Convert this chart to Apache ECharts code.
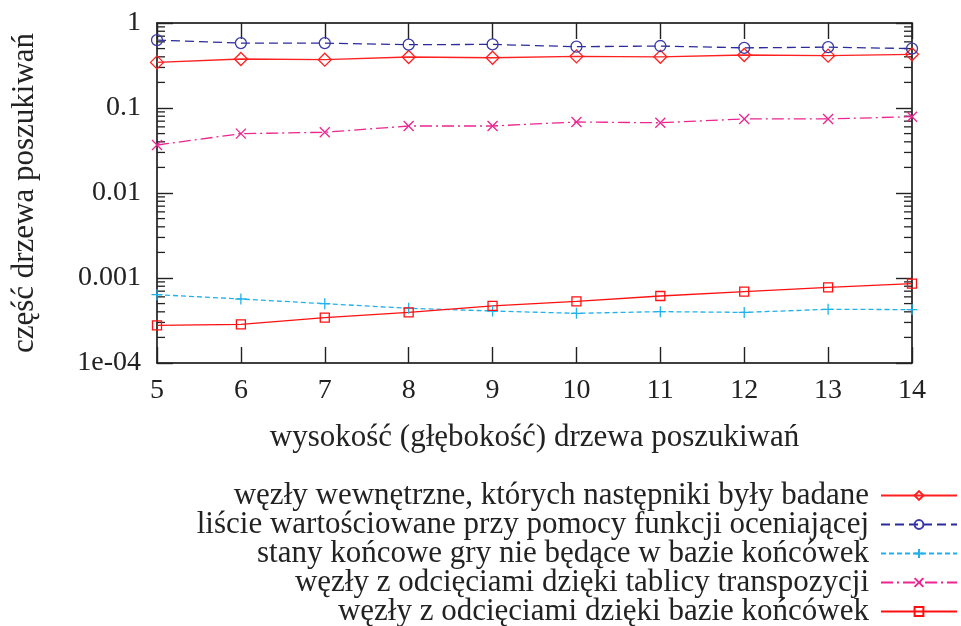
<!DOCTYPE html>
<html>
<head>
<meta charset="utf-8">
<title>część drzewa poszukiwań</title>
<script src="https://cdn.jsdelivr.net/npm/echarts@6/dist/echarts.min.js"></script>
<style>
  html, body { margin: 0; padding: 0; background: #fff; }
  #chart { width: 961px; height: 626px; }
</style>
</head>
<body>
<div id="chart"></div>
<script>
// Tree height on the x axis
const heights = [5, 6, 7, 8, 9, 10, 11, 12, 13, 14];

// Fraction of the search tree for each node category
const expandedNodes  = [0.344, 0.377, 0.370, 0.398, 0.390, 0.405, 0.400, 0.420, 0.413, 0.428];
const evaluatedLeaves = [0.630, 0.580, 0.580, 0.556, 0.560, 0.526, 0.536, 0.510, 0.520, 0.500];
const terminalStates = [6.37e-4, 5.66e-4, 4.99e-4, 4.40e-4, 4.09e-4, 3.84e-4, 4.02e-4, 3.94e-4, 4.28e-4, 4.25e-4];
const ttCutoffs      = [0.0367, 0.0499, 0.0518, 0.0614, 0.0614, 0.0685, 0.0670, 0.0743, 0.0743, 0.0790];
const egtbCutoffs    = [2.77e-4, 2.85e-4, 3.41e-4, 3.94e-4, 4.69e-4, 5.32e-4, 6.14e-4, 6.90e-4, 7.76e-4, 8.57e-4];

const seriesNames = [
  'węzły wewnętrzne, których następniki były badane',
  'liście wartościowane przy pomocy funkcji oceniającej',
  'stany końcowe gry nie będące w bazie końcówek',
  'węzły z odcięciami dzięki tablicy transpozycji',
  'węzły z odcięciami dzięki bazie końcówek'
];

// Decade labels, keyed by exponent
const yTickLabels = { '-4': '1e-04', '-3': '0.001', '-2': '0.01', '-1': '0.1', '0': '1' };

const xTitle = 'wysokość (głębokość) drzewa poszukiwań';
const yTitle = 'część drzewa poszukiwań';

const FONT = 'Liberation Serif';
const FS_TICK = 28;
const FS_TEXT = 31;

// minor log ticks 2..9 within each decade
const minorTickValues = [];
for (let e = -4; e < 0; e++) {
  for (let m = 2; m <= 9; m++) minorTickValues.push(m * Math.pow(10, e));
}

const pair = arr => arr.map((v, i) => [heights[i], v]);

const chart = echarts.init(document.getElementById('chart'), null, { renderer: 'canvas' });

const axisLineStyle = { color: '#000', width: 1.5 };
const tickStyle = { color: '#222', width: 1.4 };

function lineSeries(name, data, color, symbol, size, lineType, markerColor) {
  return {
    name: name,
    type: 'line',
    data: pair(data),
    symbol: symbol,
    symbolSize: size,
    showSymbol: true,
    clip: false,
    animation: false,
    lineStyle: { color: color, width: 1.3, type: lineType },
    itemStyle: { color: 'rgba(255,255,255,0)', borderColor: markerColor || color, borderWidth: 1.3 },
    z: 3
  };
}

const option = {
  backgroundColor: '#fff',
  animation: false,
  textStyle: { fontFamily: FONT },
  grid: { left: 157, right: 49, top: 23, bottom: 263, containLabel: false },
  xAxis: [
    {
      type: 'value', min: 5, max: 14, interval: 1, position: 'bottom',
      name: xTitle, nameLocation: 'middle', nameGap: 59,
      nameTextStyle: { fontFamily: FONT, fontSize: FS_TEXT, color: '#222' },
      axisLine: { show: true, lineStyle: axisLineStyle },
      axisTick: { show: true, inside: true, length: 16, lineStyle: tickStyle },
      axisLabel: { fontFamily: FONT, fontSize: FS_TICK, color: '#222', margin: 14 },
      splitLine: { show: false }
    },
    {
      type: 'value', min: 5, max: 14, interval: 1, position: 'top',
      axisLine: { show: true, lineStyle: axisLineStyle },
      axisTick: { show: true, inside: true, length: 16, lineStyle: tickStyle },
      axisLabel: { show: false },
      splitLine: { show: false }
    }
  ],
  yAxis: [
    {
      type: 'log', logBase: 10, min: 1e-4, max: 1, position: 'left',
      name: yTitle, nameLocation: 'middle', nameGap: 117, nameRotate: 90,
      nameTextStyle: { fontFamily: FONT, fontSize: FS_TEXT, color: '#222' },
      axisLine: { show: true, lineStyle: axisLineStyle },
      axisTick: { show: true, inside: true, length: 16, lineStyle: tickStyle },
      axisLabel: {
        fontFamily: FONT, fontSize: FS_TICK, color: '#222', margin: 16,
        formatter: v => yTickLabels[String(Math.round(Math.log10(v)))] || ''
      },
      splitLine: { show: false }
    },
    {
      type: 'log', logBase: 10, min: 1e-4, max: 1, position: 'right',
      axisLine: { show: true, lineStyle: axisLineStyle },
      axisTick: { show: true, inside: true, length: 16, lineStyle: tickStyle },
      axisLabel: { show: false },
      splitLine: { show: false }
    }
  ],
  legend: {
    orient: 'vertical',
    align: 'right',
    right: 3,
    top: 480,
    height: 200,
    padding: 0,
    itemWidth: 76,
    itemHeight: 11,
    itemGap: -2,
    selectedMode: false,
    data: seriesNames,
    textStyle: {
      fontFamily: FONT, fontSize: FS_TEXT, color: '#222',
      lineHeight: 29, padding: [0, 7, 0, 0]
    }
  },
  series: [
    // minor ticks on both vertical sides, placed through the log scale
    {
      type: 'custom',
      silent: true,
      animation: false,
      clip: false,
      z: 1,
      data: minorTickValues.map(v => [5, v]),
      renderItem: function (params, api) {
        const v = api.value(1);
        const pL = api.coord([5, v]);
        const pR = api.coord([14, v]);
        const st = { stroke: '#222', lineWidth: 1.3 };
        return {
          type: 'group',
          children: [
            { type: 'line', shape: { x1: pL[0], y1: pL[1], x2: pL[0] + 8, y2: pL[1] }, style: st },
            { type: 'line', shape: { x1: pR[0] - 8, y1: pR[1], x2: pR[0], y2: pR[1] }, style: st }
          ]
        };
      }
    },
    lineSeries(seriesNames[0], expandedNodes, '#ff2020', 'diamond', 13, 'solid'),
    lineSeries(seriesNames[1], evaluatedLeaves, '#2b2b9c', 'circle', 11, [9, 5], '#3a3aa8'),
    lineSeries(seriesNames[2], terminalStates, '#1fb2ec', 'path://M0,-1L0,1M-1,0L1,0', 11, [5, 3]),
    lineSeries(seriesNames[3], ttCutoffs, '#ec2590', 'path://M-1,-1L1,1M-1,1L1,-1', 10, [12, 4, 2, 4]),
    lineSeries(seriesNames[4], egtbCutoffs, '#ff1010', 'rect', 9, 'solid')
  ]
};

chart.setOption(option);
</script>
</body>
</html>
